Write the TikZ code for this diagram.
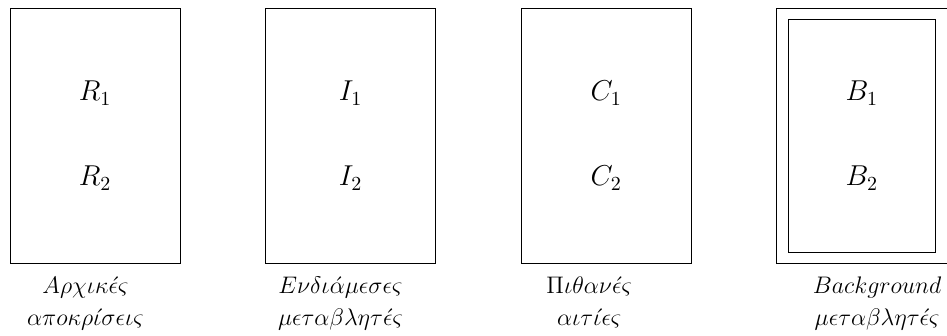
\documentclass[tikz,border=0pt]{standalone}
\usepackage{amsmath}
\usepackage{tikz}
\usetikzlibrary{positioning, fit}

\begin{document}
\begin{tikzpicture}[
        node distance=1.5cm,
        group/.style={rectangle, draw, minimum width=3cm, minimum height=4.5cm,
                      inner sep=0pt, outer sep=0pt},
        innergroup/.style={rectangle, draw, minimum width=2.6cm,
                           minimum height=4.1cm, inner sep=0pt, outer sep=0pt},
        var/.style={font=\Large},
        caption/.style={align=center, anchor=north, font=\large}
    ]
    \useasboundingbox (-0.175,-1.276) rectangle (16.5,4.64);

    %% GROUP 1: initial responses
    \node[group] (resp) at (1.5,2.25) {};
    \node[var] (r1) at ([yshift=0.75cm]resp.center) {$R_1$};
    \node[var] (r2) at ([yshift=-0.75cm]resp.center) {$R_2$};
    \node[caption] (respcap) at (1.33,-0.11)
          {$A\rho\chi\iota\kappa\acute{\epsilon}\varsigma$\\[2pt]
           $\alpha\pi o\kappa\rho\acute{\iota}\sigma\epsilon\iota\varsigma$};

    %% GROUP 2: intermediate variables
    \node[group, right=of resp] (inter) {};
    \node[var] (i1) at ([yshift=0.75cm]inter.center) {$I_1$};
    \node[var] (i2) at ([yshift=-0.75cm]inter.center) {$I_2$};
    \node[caption] (intercap) at (5.82,-0.11)
          {$E\nu\delta\iota\acute{\alpha}\mu\epsilon\sigma\epsilon\varsigma$\\[2pt]
           $\mu\epsilon\tau\alpha\beta\lambda\eta\tau\acute{\epsilon}\varsigma$};

    %% GROUP 3: possible causes
    \node[group, right=of inter] (cause) {};
    \node[var] (c1) at ([yshift=0.75cm]cause.center) {$C_1$};
    \node[var] (c2) at ([yshift=-0.75cm]cause.center) {$C_2$};
    \node[caption] (causecap) at (10.2,-0.11)
          {$\Pi\iota\theta\alpha\nu\acute{\epsilon}\varsigma$\\[2pt]
           $\alpha\iota\tau\acute{\iota}\epsilon\varsigma$};

    %% GROUP 4: background variables (double frame)
    \node[group, right=of cause] (back) {};
    \node[innergroup] (backin) at (back.center) {};
    \node[var] (b1) at ([yshift=0.75cm]back.center) {$B_1$};
    \node[var] (b2) at ([yshift=-0.75cm]back.center) {$B_2$};
    \node[caption] (backcap) at (15.27,-0.11)
          {$Background$\\[2pt]
           $\mu\epsilon\tau\alpha\beta\lambda\eta\tau\acute{\epsilon}\varsigma$};

\end{tikzpicture}
\end{document}
